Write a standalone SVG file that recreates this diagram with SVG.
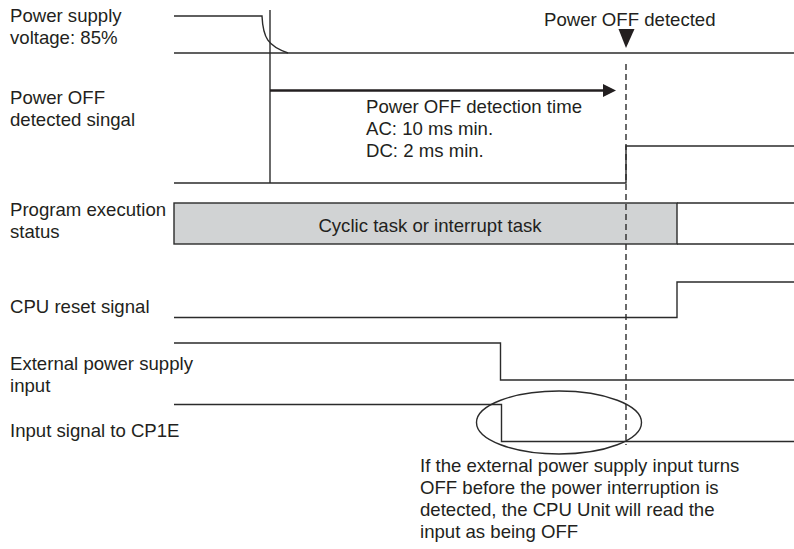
<svg xmlns="http://www.w3.org/2000/svg" width="794" height="549" viewBox="0 0 794 549">
<style>
text{font-family:"Liberation Sans",Arial,sans-serif;font-size:18.6px;fill:#231f20}
.w{fill:none;stroke:#2b2b2b;stroke-width:1.4}
.dash{fill:none;stroke:#2b2b2b;stroke-width:1.4;stroke-dasharray:6,4}
</style>
<rect width="794" height="549" fill="#fff"/>
<g id="power-supply">
<text x="10" y="22">Power supply</text>
<text x="10" y="44">voltage: 85%</text>
<path class="w" d="M174,16 H262 C263,38 268,46 288,53"/>
<path class="w" d="M174,53 H794"/>
</g>
<g id="power-off-signal">
<text x="10" y="104">Power OFF</text>
<text x="10" y="126">detected singal</text>
<path class="w" d="M270,10 V183"/>
<path class="w" d="M174,183 H626 V146 H794"/>
</g>
<g id="program-status">
<text x="10" y="216">Program execution</text>
<text x="10" y="238">status</text>
<rect x="174" y="203" width="503" height="41" fill="#d1d3d4" stroke="#2b2b2b" stroke-width="1.4"/>
<path class="w" d="M677,203 H794 M677,244 H794"/>
<text x="430" y="232" text-anchor="middle">Cyclic task or interrupt task</text>
</g>
<g id="cpu-reset">
<text x="10" y="313">CPU reset signal</text>
<path class="w" d="M174,317.5 H677 V282 H794"/>
</g>
<g id="external-power">
<text x="10" y="370">External power supply</text>
<text x="10" y="392">input</text>
<path class="w" d="M174,343 H500.5 V380 H794"/>
</g>
<g id="input-signal">
<text x="10" y="437">Input signal to CP1E</text>
<path class="w" d="M174,404.5 H501.5 V441.5 H794"/>
</g>
<g id="detected-marker">
<text x="544" y="26">Power OFF detected</text>
<polygon points="618.5,29 634.5,29 626,48" fill="#231f20"/>
</g>
<g id="detection-time">
<text x="366" y="113">Power OFF detection time</text>
<text x="366" y="135">AC: 10 ms min.</text>
<text x="366" y="157">DC: 2 ms min.</text>
</g>
<g id="note">
<text x="420" y="472">If the external power supply input turns</text>
<text x="420" y="494">OFF before the power interruption is</text>
<text x="420" y="516">detected, the CPU Unit will read the</text>
<text x="420" y="538">input as being OFF</text>
</g>
<g id="connectors">
<path class="dash" d="M626,64 V445"/>
<path d="M270,90.5 H605" stroke="#231f20" stroke-width="2.6" fill="none"/>
<polygon points="603,84 616,90.5 603,97" fill="#231f20"/>
<ellipse cx="559" cy="422.5" rx="82.5" ry="31.5" class="w"/>
</g>
</svg>
